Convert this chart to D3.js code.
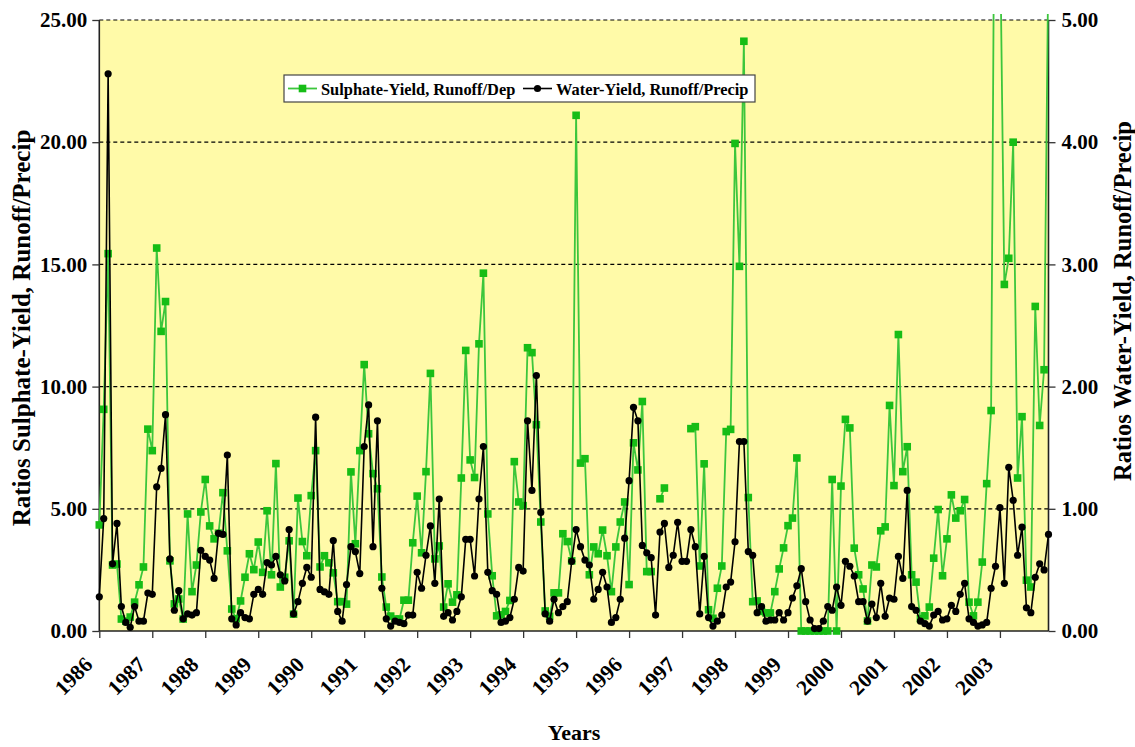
<!DOCTYPE html>
<html>
<head>
<meta charset="utf-8">
<script src="https://cdn.jsdelivr.net/npm/d3@7/dist/d3.min.js"></script>
<style>
  body { margin: 0; background: #ffffff; }
  svg text { font-family: "Liberation Serif", "Times New Roman", serif; font-weight: bold; fill: #000; }
</style>
</head>
<body>
<svg id="chart" width="1135" height="747"></svg>
<script>
// Year labels for the category axis (one tick every 12 months, Jan 1986 - Dec 2003)
const yearLabels = ["1986","1987","1988","1989","1990","1991","1992","1993","1994",
                    "1995","1996","1997","1998","1999","2000","2001","2002","2003"];

// Monthly sulphate yield ratio, runoff / deposition (left axis); null = no value
const sulphateYield = [
  4.34, 9.07, 15.44, 2.70, 2.74, 0.49, 0.40, 0.57, 1.18, 1.89, 2.62, 8.26,
  7.38, 15.67, 12.26, 13.48, 2.87, 1.11, 1.31, 0.49, 4.79, 1.61, 2.70, 4.87,
  6.20, 4.30, 3.77, 4.00, 5.66, 3.28, 0.90, 0.50, 1.23, 2.20, 3.16, 2.51,
  3.64, 2.40, 4.92, 2.30, 6.85, 1.80, 2.20, 3.69, 0.69, 5.44, 3.66, 3.08,
  5.54, 7.38, 2.62, 3.08, 2.79, 2.38, 1.20, 1.20, 1.10, 6.51, 3.57, 7.38,
  10.90, 8.07, 6.44, 5.82, 2.21, 0.98, 0.61, 0.49, 0.49, 1.26, 1.26, 3.61,
  5.52, 3.20, 6.52, 10.54, 2.95, 3.48, 0.98, 1.93, 1.18, 1.48, 6.26, 11.48,
  7.00, 6.28, 11.75, 14.64, 4.79, 2.26, 0.62, 0.66, 0.80, 1.25, 6.93, 5.28,
  5.13, 11.59, 11.39, 8.44, 4.46, 0.82, 0.60, 1.56, 1.56, 3.98, 3.66, 2.87,
  21.10, 6.87, 7.05, 2.30, 3.44, 3.16, 4.13, 3.08, 1.61, 3.44, 4.46, 5.28,
  1.90, 7.70, 6.59, 9.39, 2.43, 2.43, null, 5.41, 5.85, null, null, null,
  null, null, 8.28, 8.36, 2.66, 6.84, 0.87, 0.52, 1.75, 2.66, 8.16, 8.25,
  19.95, 14.92, 24.13, 5.46, 1.20, 1.23, 0.80, 0.74, 0.74, 1.61, 2.54, 3.40,
  4.31, 4.62, 7.08, 0, 0, 0, 0, 0, 0, 0, 6.20, 0,
  5.93, 8.66, 8.31, 3.39, 2.30, 1.72, 0.41, 2.70, 2.62, 4.10, 4.26, 9.23,
  5.95, 12.13, 6.52, 7.54, 2.30, 2.00, 0.50, 0.62, 0.98, 2.98, 4.97, 2.26,
  3.77, 5.57, 4.62, 4.92, 5.38, 1.18, 0.62, 1.18, 2.82, 6.03, 9.02, 38.0,
  29.0, 14.18, 15.25, 20.00, 6.26, 8.77, 2.08, 1.80, 13.28, 8.41, 10.69, 28.0
];

// Monthly water yield ratio, runoff / precipitation (right axis)
const waterYield = [
  0.28, 0.92, 4.56, 0.55, 0.88, 0.20, 0.07, 0.03, 0.20, 0.08, 0.08, 0.31,
  0.30, 1.18, 1.33, 1.77, 0.59, 0.17, 0.33, 0.10, 0.14, 0.13, 0.15, 0.66,
  0.61, 0.58, 0.43, 0.80, 0.79, 1.44, 0.10, 0.05, 0.15, 0.11, 0.10, 0.30,
  0.34, 0.30, 0.56, 0.54, 0.61, 0.46, 0.41, 0.83, 0.14, 0.24, 0.39, 0.52,
  0.44, 1.75, 0.34, 0.32, 0.30, 0.74, 0.16, 0.08, 0.38, 0.69, 0.65, 0.47,
  1.51, 1.85, 0.69, 1.72, 0.35, 0.10, 0.04, 0.08, 0.07, 0.06, 0.13, 0.13,
  0.48, 0.35, 0.62, 0.86, 0.39, 1.08, 0.12, 0.15, 0.09, 0.16, 0.28, 0.75,
  0.75, 0.45, 1.08, 1.51, 0.48, 0.33, 0.30, 0.07, 0.08, 0.11, 0.26, 0.52,
  0.49, 1.72, 1.15, 2.09, 0.97, 0.14, 0.08, 0.26, 0.15, 0.20, 0.24, 0.57,
  0.83, 0.69, 0.58, 0.54, 0.26, 0.34, 0.48, 0.36, 0.07, 0.11, 0.26, 0.76,
  1.23, 1.83, 1.72, 0.70, 0.64, 0.60, 0.13, 0.81, 0.88, 0.52, 0.62, 0.89,
  0.57, 0.57, 0.83, 0.69, 0.14, 0.61, 0.11, 0.04, 0.08, 0.13, 0.36, 0.40,
  0.73, 1.55, 1.55, 0.65, 0.62, 0.15, 0.20, 0.08, 0.09, 0.09, 0.15, 0.09,
  0.15, 0.27, 0.37, 0.51, 0.24, 0.09, 0.02, 0.02, 0.08, 0.20, 0.17, 0.36,
  0.21, 0.57, 0.53, 0.45, 0.24, 0.24, 0.08, 0.22, 0.11, 0.39, 0.12, 0.27,
  0.26, 0.61, 0.43, 1.15, 0.20, 0.17, 0.08, 0.06, 0.04, 0.13, 0.16, 0.09,
  0.10, 0.21, 0.16, 0.30, 0.39, 0.10, 0.07, 0.04, 0.05, 0.07, 0.35, 0.53,
  1.01, 0.39, 1.34, 1.07, 0.62, 0.85, 0.19, 0.15, 0.44, 0.55, 0.50, 0.79
];

const leftTicks = [0, 5, 10, 15, 20, 25];
const rightTicks = [0, 1, 2, 3, 4, 5];
const seriesNames = ["Sulphate-Yield, Runoff/Dep", "Water-Yield, Runoff/Precip"];

// ---- layout ----
const plot = { left: 99.3, right: 1048.5, top: 20, bottom: 631 };
const GREEN_LINE = "#3cc63c", GREEN_MARK = "#16bd16";

const svg = d3.select("#chart");

const x = d3.scaleLinear().domain([0, sulphateYield.length - 1]).range([plot.left, plot.right]);
const yL = d3.scaleLinear().domain([0, 25]).range([plot.bottom, plot.top]);
const yR = d3.scaleLinear().domain([0, 5]).range([plot.bottom, plot.top]);

// plot background
svg.append("rect")
  .attr("x", plot.left).attr("y", plot.top)
  .attr("width", plot.right - plot.left).attr("height", plot.bottom - plot.top)
  .attr("fill", "#fffaa8");

// dashed horizontal gridlines
svg.append("g").selectAll("line")
  .data(leftTicks.filter(d => d > 0))
  .join("line")
  .attr("x1", plot.left).attr("x2", plot.right)
  .attr("y1", d => yL(d)).attr("y2", d => yL(d))
  .attr("stroke", "#000").attr("stroke-width", 1.2)
  .attr("stroke-dasharray", "4,3");

// axes
const fmt = d3.format(".2f");
const gL = svg.append("g").attr("transform", `translate(${plot.left},0)`)
  .call(d3.axisLeft(yL).tickValues(leftTicks).tickFormat(fmt).tickSize(7).tickPadding(5));
const gR = svg.append("g").attr("transform", `translate(${plot.right},0)`)
  .call(d3.axisRight(yR).tickValues(rightTicks).tickFormat(fmt).tickSize(7).tickPadding(6));
const monthTicks = d3.range(0, sulphateYield.length, 12);
const gB = svg.append("g").attr("transform", `translate(0,${plot.bottom})`)
  .call(d3.axisBottom(x).tickValues(monthTicks).tickFormat((d, i) => yearLabels[i]).tickSize(7));

[gL, gR, gB].forEach(g => {
  g.select(".domain").attr("stroke", "#222").attr("stroke-width", 1.6);
  g.selectAll(".tick line").attr("stroke", "#333").attr("stroke-width", 1.3);
  g.selectAll("text").style("font-size", "21px").style("font-family", "'Liberation Serif','Times New Roman',serif")
    .style("font-weight", "bold").attr("fill", "#000");
});
gR.select(".domain").attr("d", `M0,${plot.top}V${plot.bottom}`);
gL.select(".domain").attr("d", `M0,${plot.top}V${plot.bottom}`);
gB.select(".domain").attr("d", `M${plot.left},0H${plot.right}`);

// rotated year labels
gB.selectAll(".tick text")
  .attr("text-anchor", "end")
  .attr("x", 0).attr("y", 0).attr("dy", null)
  .style("font-size", "21.5px")
  .attr("transform", "translate(-6,35) rotate(-45)");

// axis titles
svg.append("text")
  .attr("transform", "translate(30,328) rotate(-90)")
  .attr("text-anchor", "middle").style("font-size", "25px")
  .text("Ratios Sulphate-Yield, Runoff/Precip");
svg.append("text")
  .attr("transform", "translate(1131,301) rotate(-90)")
  .attr("text-anchor", "middle").style("font-size", "24.5px")
  .text("Ratios Water-Yield, Runoff/Precip");
svg.append("text")
  .attr("x", 574).attr("y", 740)
  .attr("text-anchor", "middle").style("font-size", "22px")
  .text("Years");

// clip so off-scale values run just past the top of the plot
svg.append("clipPath").attr("id", "plotClip")
  .append("rect").attr("x", plot.left - 5).attr("y", plot.top - 6)
  .attr("width", plot.right - plot.left + 10).attr("height", plot.bottom - plot.top + 12);

const series = svg.append("g").attr("clip-path", "url(#plotClip)");

// sulphate series
const lineS = d3.line().defined(d => d != null).x((d, i) => x(i)).y(d => yL(d));
series.append("path").datum(sulphateYield)
  .attr("d", lineS).attr("fill", "none")
  .attr("stroke", GREEN_LINE).attr("stroke-width", 1.8);
const mk = 7.6;
series.append("g").selectAll("rect")
  .data(sulphateYield.map((v, i) => ({ v, i })).filter(d => d.v != null && d.v <= 25))
  .join("rect")
  .attr("x", d => x(d.i) - mk / 2).attr("y", d => yL(d.v) - mk / 2)
  .attr("width", mk).attr("height", mk)
  .attr("fill", GREEN_MARK);

// water series
const lineW = d3.line().x((d, i) => x(i)).y(d => yR(d));
series.append("path").datum(waterYield)
  .attr("d", lineW).attr("fill", "none")
  .attr("stroke", "#000").attr("stroke-width", 1.6);
series.append("g").selectAll("circle")
  .data(waterYield.map((v, i) => ({ v, i })))
  .join("circle")
  .attr("cx", d => x(d.i)).attr("cy", d => yR(d.v))
  .attr("r", 3.6).attr("fill", "#000");

// legend
const lg = svg.append("g").attr("transform", "translate(284,75)");
lg.append("rect").attr("width", 471).attr("height", 27)
  .attr("fill", "#fff").attr("stroke", "#444").attr("stroke-width", 1.2);
lg.append("line").attr("x1", 4).attr("x2", 33).attr("y1", 13.5).attr("y2", 13.5)
  .attr("stroke", GREEN_LINE).attr("stroke-width", 1.8);
lg.append("rect").attr("x", 18.5 - mk / 2).attr("y", 13.5 - mk / 2).attr("width", mk).attr("height", mk)
  .attr("fill", GREEN_MARK);
lg.append("text").attr("x", 37).attr("y", 19.5).style("font-size", "16.4px").text(seriesNames[0]);
lg.append("line").attr("x1", 239).attr("x2", 268).attr("y1", 13.5).attr("y2", 13.5)
  .attr("stroke", "#000").attr("stroke-width", 1.6);
lg.append("circle").attr("cx", 253.5).attr("cy", 13.5).attr("r", 3.6).attr("fill", "#000");
lg.append("text").attr("x", 272).attr("y", 19.5).style("font-size", "16.4px").text(seriesNames[1]);
</script>
</body>
</html>
